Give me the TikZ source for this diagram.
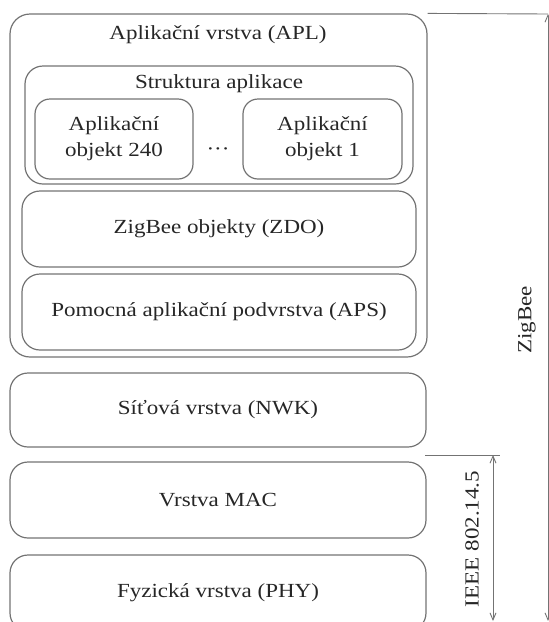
\documentclass[tikz,border=0pt]{standalone}
\usepackage{fontspec}
\setmainfont{Liberation Serif}[FakeStretch=1.15]
\usetikzlibrary{arrows.meta}

\begin{document}
\begin{tikzpicture}[x=1pt,y=1pt,yscale=-1,
  layer/.style={draw=black!55, line width=1.2pt, rounded corners=18pt, inner sep=0pt, align=center, text=black!85, font=\fontsize{20}{26}\selectfont},
  lbl/.style={inner sep=0pt, text=black!85, font=\fontsize{20}{26}\selectfont},
  span/.style={draw=black!55, line width=0.9pt, {Straight Barb[length=7pt,width=6pt]}-{Straight Barb[length=7pt,width=6pt]}}]
\useasboundingbox (0,0) rectangle (549,622);

%Shape: Aplikacni vrstva
\node[layer, rounded corners=20pt, minimum width=417pt, minimum height=343pt] (apl) at (218.5,185.5) {};
% Text Node
\node[lbl, anchor=base] (apltxt) at (218,39) {Aplikační vrstva (APL)};
%Shape: Struktura aplikace
\node[layer, minimum width=388pt, minimum height=118pt] (struct) at (219,125) {};
% Text Node
\node[lbl, anchor=base] (structtxt) at (219,88) {Struktura aplikace};
%Shape: objekty
\node[layer, rounded corners=15pt, minimum width=158pt, minimum height=80pt] (obj240) at (114,139) {Aplikační\\objekt 240};
\node[lbl, anchor=base] (dots) at (218,155) {···};
\node[layer, rounded corners=15pt, minimum width=159pt, minimum height=80pt] (obj1) at (322.5,139) {Aplikační\\objekt 1};
%Shape: ZDO, APS
\node[layer, minimum width=394pt, minimum height=76pt] (zdo) at (219,229) {ZigBee objekty (ZDO)};
\node[layer, minimum width=394pt, minimum height=76pt] (aps) at (219,312) {Pomocná aplikační podvrstva (APS)};
%Shape: nizsi vrstvy
\node[layer, minimum width=416pt, minimum height=74pt] (nwk) at (218,410) {Síťová vrstva (NWK)};
\node[layer, minimum width=416pt, minimum height=76pt] (mac) at (218,500) {Vrstva MAC};
\node[layer, minimum width=416pt, minimum height=76pt] (phy) at (218,593) {Fyzická vrstva (PHY)};

%Straight Lines: ZigBee
\coordinate (zbtop) at (548,14);
\coordinate (zbbot) at (548,621);
\draw[draw=black!55, line width=0.9pt] (apl.north east) -- (zbtop);
\draw[span] (zbtop) -- (zbbot);
% Text Node
\node[lbl, rotate=90] (zigbee) at (527,320) {ZigBee};

%Straight Lines: IEEE
\coordinate (ieeeleft) at (425,455);
\coordinate (ieeeright) at (500,455);
\coordinate (ieeetop) at (493,455);
\coordinate (ieeebot) at (493,621);
\draw[draw=black!55, line width=0.9pt] (ieeeleft) -- (ieeeright);
\draw[span] (ieeetop) -- (ieeebot);
% Text Node
\node[lbl, rotate=90] (ieee) at (472,539) {IEEE 802.14.5};

\end{tikzpicture}
\end{document}
